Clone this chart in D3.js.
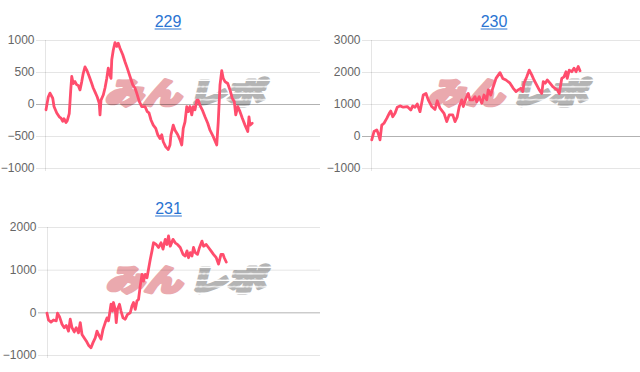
<!DOCTYPE html>
<html>
<head>
<meta charset="utf-8">
<script src="https://cdn.jsdelivr.net/npm/d3@7"></script>
<style>
  html, body { margin: 0; padding: 0; background: #fff; }
  svg { display: block; }
</style>
</head>
<body>
<svg id="chart" width="640" height="372"></svg>
<script>
// Machine numbers shown as panel titles
const titles = ["229", "230", "231"];

// Y-axis tick values per machine
const ticks229 = [-1000, -500, 0, 500, 1000];
const ticks230 = [-1000, 0, 1000, 2000, 3000];
const ticks231 = [-1000, 0, 1000, 2000];

// Horizontal extent of each panel, in games
const gameMax = [11000, 10760, 10920];

// Machine 229: games played and running coin difference
const games229 = [40,130,200,310,360,470,570,640,710,760,840,890,970,1030,1070,1130,1200,1270,1330,1400,
  1470,1530,1600,1670,1770,1870,1930,2000,2090,2170,2200,2240,2330,2400,2470,2530,2600,2640,2670,2730,
  2800,2870,2930,3000,3110,3200,3290,3400,3510,3600,3670,3770,3870,4000,4090,4160,4240,4330,4430,4510,
  4600,4670,4730,4830,4930,5000,5040,5130,5200,5310,5400,5470,5530,5600,5670,5730,5800,5870,5930,6000,
  6070,6130,6200,6290,6400,6510,6600,6730,6870,6930,7000,7070,7130,7200,7310,7400,7490,7570,7630,7710,
  7800,7890,8000,8110,8160,8200,8290];
const diff229 = [-90,110,170,90,-40,-140,-200,-220,-270,-230,-290,-260,-150,220,430,320,350,300,290,220,
  350,480,580,530,430,320,250,190,110,10,-170,60,140,250,400,560,450,400,690,840,
  960,900,950,870,770,660,560,430,300,250,170,40,-40,-40,-120,-140,-250,-330,-380,-480,
  -540,-480,-590,-670,-710,-640,-480,-330,-410,-480,-560,-640,-380,-280,-40,-120,-40,-170,-40,-90,
  60,60,-20,-90,-200,-300,-410,-510,-640,-280,300,520,400,350,320,220,90,40,-170,-40,
  -120,-220,-330,-430,-200,-330,-300];

// Machine 230
const games230 = [30,120,230,290,360,430,520,630,730,790,870,960,1050,1160,1290,1450,1590,1670,1760,1850,
  1960,2090,2200,2290,2430,2560,2650,2760,2920,3030,3130,3270,3360,3450,3530,3630,3690,3800,3890,3960,
  4070,4160,4230,4330,4430,4520,4630,4690,4790,4890,5000,5160,5270,5400,5560,5690,5800,5890,5990,6070,
  6120,6230,6330,6430,6520,6630,6730,6830,6890,6970,7050,7160,7270,7360,7450,7530,7630,7720,7800,7850,
  7930,8030,8120,8200,8290,8360];
const diff230 = [-120,140,190,80,-120,340,400,550,710,780,600,710,900,940,900,920,810,940,900,1000,
  760,1280,1330,1130,920,830,1100,870,710,450,660,660,450,600,920,1130,920,1180,1330,1130,
  1130,1230,1070,1230,1020,1280,1130,1440,1280,1540,1800,1980,1800,1750,1650,1490,1390,1440,1490,1390,
  1650,1850,2060,1910,1750,1590,1440,1330,1700,1650,1750,1650,1540,1490,1440,1330,1800,1850,2010,1800,
  2060,2010,2120,2010,2170,2040];

// Machine 231
const games231 = [0,60,160,260,370,420,500,600,690,770,860,930,1000,1090,1170,1260,1330,1400,1490,1570,
  1660,1760,1840,1930,2000,2060,2160,2240,2330,2400,2460,2560,2620,2660,2730,2770,2820,2900,2960,3040,
  3130,3220,3330,3400,3460,3530,3600,3660,3730,3800,3860,3930,4000,4060,4130,4200,4260,4370,4460,4560,
  4640,4730,4800,4860,4930,5040,5130,5220,5330,5440,5530,5600,5660,5730,5800,5860,5930,6020,6100,6200,
  6260,6370,6460,6560,6660,6770,6860,6960,7040,7090,7170];
const diff231 = [-20,-180,-230,-180,-200,-20,-100,-280,-360,-310,-440,-160,-360,-460,-360,-480,-240,-520,-600,-670,
  -770,-830,-710,-600,-440,-520,-630,-400,-240,-130,-200,190,30,230,60,-240,70,190,30,-130,
  -160,-50,-10,150,230,70,270,300,620,890,730,890,810,1010,1240,1440,1630,1590,1520,1630,
  1480,1710,1590,1790,1550,1710,1630,1590,1520,1360,1320,1440,1280,1400,1320,1520,1400,1360,1520,1670,
  1550,1590,1520,1440,1360,1280,1130,1360,1360,1280,1180];

const panels = [
  { title: titles[0], games: games229, diff: diff229, ticks: ticks229, gameMax: gameMax[0], ox: 0,   oy: 0,   left: 45, titleX: 168 },
  { title: titles[1], games: games230, diff: diff230, ticks: ticks230, gameMax: gameMax[1], ox: 320, oy: 0,   left: 51, titleX: 174 },
  { title: titles[2], games: games231, diff: diff231, ticks: ticks231, gameMax: gameMax[2], ox: 0,   oy: 187, left: 47, titleX: 168.5 }
];

const W = 320, TOP = 40, BOTTOM = 168;
const FONT = '"Liberation Sans", Arial, Helvetica, sans-serif';
const svg = d3.select("#chart");

// Striped fill used for the grey half of the logo
const defs = svg.append("defs");
const pat = defs.append("pattern")
  .attr("id", "stripes")
  .attr("patternUnits", "userSpaceOnUse")
  .attr("width", 10).attr("height", 6.5);
pat.append("rect").attr("width", 10).attr("height", 5).attr("fill", "#b4b4b4");

panels.forEach(p => {
  const g = svg.append("g").attr("transform", `translate(${p.ox},${p.oy})`);

  const x = d3.scaleLinear().domain([0, p.gameMax]).range([p.left, W]);
  const y = d3.scaleLinear().domain(d3.extent(p.ticks)).range([BOTTOM, TOP]);

  // Logo watermark (heavy, slanted; the grey half is striped), behind the grid
  const cx = (p.left + W) / 2 + 3;
  const wm = g.append("g").attr("transform", `translate(${cx},94)`);
  wm.append("text")
    .attr("x", -2).attr("y", 10)
    .attr("text-anchor", "end")
    .attr("font-family", '"Noto Sans CJK JP", sans-serif')
    .attr("font-weight", 900)
    .attr("font-size", 30)
    .attr("textLength", 76).attr("lengthAdjust", "spacingAndGlyphs")
    .attr("transform", "skewX(-14)")
    .attr("fill", "#eaa9ae")
    .attr("stroke", "#eaa9ae")
    .attr("stroke-width", 3.2)
    .attr("stroke-linejoin", "round")
    .text("みん");
  wm.append("text")
    .attr("x", 5).attr("y", 10)
    .attr("text-anchor", "start")
    .attr("font-family", '"Noto Sans CJK JP", sans-serif')
    .attr("font-weight", 900)
    .attr("font-size", 30)
    .attr("textLength", 76).attr("lengthAdjust", "spacingAndGlyphs")
    .attr("transform", "skewX(-14)")
    .attr("fill", "url(#stripes)")
    .attr("stroke", "url(#stripes)")
    .attr("stroke-width", 3.2)
    .attr("stroke-linejoin", "round")
    .text("レポ");

  // Title (rendered as a link-style label)
  const t = g.append("text")
    .attr("x", p.titleX).attr("y", 27)
    .attr("text-anchor", "middle")
    .attr("font-family", FONT)
    .attr("font-size", 16)
    .attr("fill", "#2a74d2")
    .text(p.title);
  const tw = t.node().getComputedTextLength();
  g.append("line")
    .attr("x1", p.titleX - tw / 2).attr("x2", p.titleX + tw / 2)
    .attr("y1", 29).attr("y2", 29)
    .attr("stroke", "#2a74d2").attr("stroke-width", 1);

  // Horizontal grid lines, zero line darker
  g.append("g").selectAll("line")
    .data(p.ticks)
    .join("line")
    .attr("x1", p.left - 9).attr("x2", W)
    .attr("y1", d => y(d) + 0.5).attr("y2", d => y(d) + 0.5)
    .attr("stroke", d => d === 0 ? "rgba(0,0,0,0.3)" : "rgba(0,0,0,0.1)")
    .attr("stroke-width", 1);

  // Y axis border
  g.append("line")
    .attr("x1", p.left + 0.5).attr("x2", p.left + 0.5)
    .attr("y1", TOP).attr("y2", BOTTOM + 3)
    .attr("stroke", "rgba(0,0,0,0.1)");

  // Tick labels via d3 axis
  const axis = d3.axisLeft(y).tickValues(p.ticks).tickSize(0).tickPadding(10.5).tickFormat(d3.format("d"));
  const ag = g.append("g").attr("transform", `translate(${p.left},0)`).call(axis);
  ag.select(".domain").remove();
  ag.selectAll("text")
    .attr("font-family", FONT)
    .attr("font-size", 12)
    .attr("fill", "#666");

  // Running difference line
  const line = d3.line()
    .x((d, i) => x(p.games[i]))
    .y(d => y(d));
  g.append("path")
    .datum(p.diff)
    .attr("d", line)
    .attr("fill", "none")
    .attr("stroke", "#ff4d6d")
    .attr("stroke-width", 2.8)
    .attr("stroke-linejoin", "round")
    .attr("stroke-linecap", "round");
});
</script>
</body>
</html>
